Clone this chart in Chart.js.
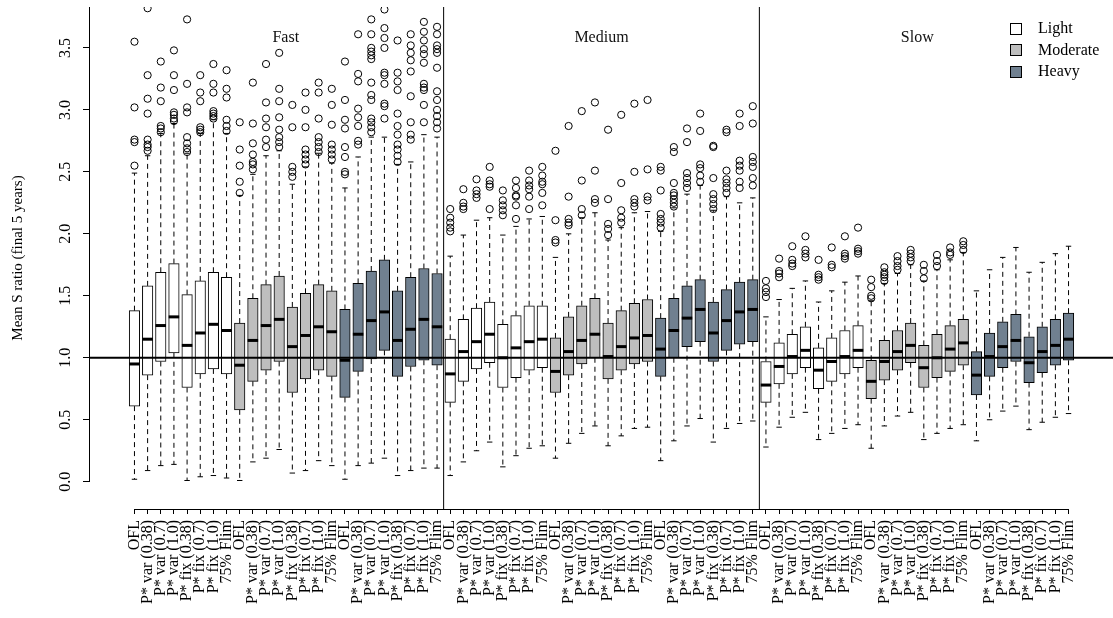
<!DOCTYPE html>
<html>
<head>
<meta charset="utf-8">
<title>Mean S ratio boxplots</title>
<script src="https://cdn.jsdelivr.net/npm/chart.js@4.4.1/dist/chart.umd.min.js"></script>
<style>
  html, body { margin: 0; padding: 0; background: #fff; }
</style>
</head>
<body>
<canvas id="boxChart" width="1113" height="618"></canvas>
<script>
/* ===============================
   DATA
================================ */

const speeds = ["Fast", "Medium", "Slow"];
const intensities = ["Light", "Moderate", "Heavy"];
const methods = ["OFL", "P* var (0.38)", "P* var (0.7)", "P* var (1.0)",
                 "P* fix (0.38)", "P* fix (0.7)", "P* fix (1.0)", "75% Flim"];
const fills = ["#FFFFFF", "#BEBEBE", "#708090"];
const yTicks = [0, 0.5, 1, 1.5, 2, 2.5, 3, 3.5];

// 72 boxes: speed -> intensity -> method
const whiskerLow = [
  0.02, 0.09, 0.13, 0.14, 0.01, 0.04, 0.05, 0.03,
  0.01, 0.16, 0.19, 0.26, 0.07, 0.09, 0.17, 0.13,
  0.02, 0.13, 0.15, 0.19, 0.05, 0.09, 0.11, 0.11,
  0.05, 0.16, 0.25, 0.32, 0.12, 0.21, 0.27, 0.29,
  0.19, 0.31, 0.39, 0.45, 0.29, 0.37, 0.43, 0.44,
  0.17, 0.33, 0.45, 0.51, 0.32, 0.43, 0.47, 0.49,
  0.28, 0.44, 0.52, 0.56, 0.34, 0.39, 0.43, 0.46,
  0.27, 0.45, 0.53, 0.56, 0.34, 0.39, 0.43, 0.46,
  0.33, 0.50, 0.57, 0.61, 0.42, 0.48, 0.52, 0.55
];
const lowerQuartile = [
  0.61, 0.86, 0.97, 1.04, 0.76, 0.87, 0.91, 0.87,
  0.58, 0.81, 0.90, 0.97, 0.72, 0.83, 0.90, 0.85,
  0.68, 0.89, 0.99, 1.06, 0.85, 0.93, 0.98, 0.94,
  0.64, 0.81, 0.91, 0.96, 0.76, 0.84, 0.90, 0.92,
  0.72, 0.86, 0.95, 1.00, 0.83, 0.90, 0.95, 0.97,
  0.85, 1.00, 1.09, 1.13, 0.97, 1.06, 1.11, 1.13,
  0.64, 0.79, 0.87, 0.92, 0.75, 0.81, 0.87, 0.92,
  0.67, 0.82, 0.90, 0.96, 0.76, 0.84, 0.89, 0.94,
  0.70, 0.85, 0.92, 0.97, 0.80, 0.88, 0.94, 0.98
];
const median = [
  0.95, 1.15, 1.26, 1.33, 1.10, 1.20, 1.27, 1.22,
  0.94, 1.14, 1.26, 1.31, 1.09, 1.18, 1.25, 1.21,
  0.98, 1.19, 1.30, 1.37, 1.14, 1.23, 1.31, 1.25,
  0.87, 1.05, 1.13, 1.19, 1.00, 1.08, 1.13, 1.15,
  0.89, 1.05, 1.14, 1.19, 1.01, 1.09, 1.16, 1.18,
  1.07, 1.22, 1.32, 1.39, 1.20, 1.30, 1.37, 1.39,
  0.78, 0.93, 1.01, 1.06, 0.90, 0.97, 1.01, 1.06,
  0.81, 0.97, 1.05, 1.10, 0.92, 1.00, 1.07, 1.12,
  0.86, 1.01, 1.09, 1.14, 0.96, 1.05, 1.10, 1.15
];
const upperQuartile = [
  1.38, 1.58, 1.69, 1.76, 1.51, 1.62, 1.69, 1.65,
  1.28, 1.48, 1.59, 1.66, 1.41, 1.52, 1.59, 1.54,
  1.39, 1.60, 1.70, 1.79, 1.54, 1.65, 1.72, 1.68,
  1.15, 1.31, 1.40, 1.45, 1.27, 1.34, 1.42, 1.42,
  1.16, 1.33, 1.42, 1.48, 1.28, 1.38, 1.44, 1.47,
  1.32, 1.48, 1.58, 1.63, 1.45, 1.55, 1.61, 1.63,
  0.97, 1.12, 1.19, 1.25, 1.08, 1.16, 1.22, 1.26,
  0.98, 1.14, 1.22, 1.28, 1.10, 1.19, 1.26, 1.31,
  1.05, 1.20, 1.29, 1.35, 1.17, 1.25, 1.31, 1.36
];
const whiskerHigh = [
  2.49, 2.63, 2.81, 2.89, 2.65, 2.81, 2.92, 2.81,
  2.31, 2.48, 2.63, 2.67, 2.40, 2.54, 2.65, 2.57,
  2.37, 2.62, 2.78, 2.78, 2.56, 2.58, 2.80, 2.78,
  1.82, 1.99, 2.11, 2.13, 1.99, 2.06, 2.12, 2.14,
  1.81, 2.00, 2.13, 2.17, 1.95, 2.05, 2.17, 2.18,
  2.02, 2.21, 2.32, 2.39, 2.19, 2.30, 2.25, 2.29,
  1.33, 1.47, 1.56, 1.62, 1.45, 1.54, 1.61, 1.66,
  1.46, 1.60, 1.68, 1.75, 1.62, 1.71, 1.79, 1.85,
  1.54, 1.71, 1.81, 1.89, 1.69, 1.77, 1.84, 1.90
];
const outliers = [
  [2.55, 2.74, 2.76, 3.02, 3.55],
  [2.67, 2.70, 2.72, 2.76, 2.97, 3.09, 3.28, 3.82],
  [2.82, 2.85, 2.87, 3.07, 3.18, 3.39],
  [2.91, 2.93, 2.96, 2.98, 3.16, 3.28, 3.48],
  [2.66, 2.69, 2.73, 2.78, 2.98, 3.02, 3.21, 3.73],
  [2.82, 2.84, 2.86, 3.07, 3.14, 3.28],
  [2.93, 2.95, 2.97, 2.99, 3.14, 3.21, 3.37],
  [2.83, 2.87, 2.92, 3.10, 3.17, 3.32],
  [2.33, 2.42, 2.55, 2.68, 2.90],
  [2.52, 2.56, 2.58, 2.64, 2.73, 2.89, 3.22],
  [2.70, 2.76, 2.86, 2.93, 3.06, 3.37],
  [2.70, 2.74, 2.78, 2.84, 2.94, 3.07, 3.17, 3.46],
  [2.46, 2.50, 2.54, 2.86, 3.04],
  [2.56, 2.60, 2.64, 2.68, 2.86, 3.00, 3.14],
  [2.66, 2.70, 2.74, 2.78, 2.93, 3.14, 3.22],
  [2.60, 2.64, 2.68, 2.72, 2.88, 3.04, 3.17],
  [2.48, 2.50, 2.62, 2.70, 2.85, 2.92, 3.08, 3.39],
  [2.72, 2.75, 2.87, 2.94, 3.01, 3.23, 3.29, 3.61],
  [2.82, 2.86, 2.90, 2.93, 3.08, 3.12, 3.22, 3.41, 3.44, 3.47, 3.50, 3.61, 3.73],
  [2.93, 3.03, 3.05, 3.21, 3.28, 3.30, 3.50, 3.58, 3.66, 3.81],
  [2.58, 2.63, 2.68, 2.72, 2.80, 2.87, 2.97, 3.16, 3.23, 3.30, 3.56],
  [2.76, 2.80, 2.90, 3.11, 3.31, 3.40, 3.46, 3.52, 3.61],
  [2.90, 3.04, 3.16, 3.18, 3.21, 3.38, 3.45, 3.49, 3.56, 3.63, 3.71],
  [2.85, 2.90, 2.95, 3.00, 3.08, 3.15, 3.34, 3.46, 3.49, 3.52, 3.61, 3.67],
  [2.02, 2.05, 2.09, 2.13, 2.20],
  [2.20, 2.22, 2.25, 2.36],
  [2.29, 2.32, 2.35, 2.44],
  [2.20, 2.38, 2.40, 2.43, 2.54],
  [2.15, 2.19, 2.23, 2.27, 2.35],
  [2.12, 2.23, 2.30, 2.31, 2.37, 2.43],
  [2.20, 2.30, 2.36, 2.39, 2.43, 2.51],
  [2.23, 2.33, 2.40, 2.42, 2.47, 2.54],
  [1.93, 1.95, 2.11, 2.67],
  [2.07, 2.09, 2.12, 2.30, 2.87],
  [2.15, 2.20, 2.43, 2.99],
  [2.25, 2.28, 2.51, 3.06],
  [1.99, 2.04, 2.08, 2.28, 2.84],
  [2.09, 2.13, 2.19, 2.41, 2.96],
  [2.22, 2.25, 2.28, 2.50, 3.05],
  [2.27, 2.30, 2.52, 3.08],
  [2.05, 2.09, 2.12, 2.16, 2.35, 2.51, 2.54],
  [2.22, 2.25, 2.28, 2.31, 2.33, 2.41, 2.66, 2.70],
  [2.37, 2.41, 2.45, 2.49, 2.74, 2.85],
  [2.42, 2.47, 2.53, 2.56, 2.83, 2.97],
  [2.20, 2.24, 2.28, 2.32, 2.45, 2.70, 2.71],
  [2.33, 2.37, 2.41, 2.44, 2.51, 2.82, 2.84],
  [2.37, 2.42, 2.51, 2.55, 2.59, 2.87, 2.97],
  [2.39, 2.45, 2.54, 2.58, 2.62, 2.89, 3.03],
  [1.49, 1.53, 1.56, 1.62],
  [1.65, 1.68, 1.70, 1.80],
  [1.74, 1.76, 1.79, 1.90],
  [1.81, 1.84, 1.87, 1.98],
  [1.63, 1.65, 1.67, 1.79],
  [1.73, 1.75, 1.89],
  [1.80, 1.82, 1.84, 1.98],
  [1.84, 1.86, 1.88, 2.05],
  [1.48, 1.50, 1.57, 1.63],
  [1.62, 1.65, 1.67, 1.69, 1.73],
  [1.71, 1.74, 1.78, 1.82],
  [1.78, 1.81, 1.84, 1.87],
  [1.64, 1.70, 1.75],
  [1.74, 1.78, 1.83],
  [1.83, 1.85, 1.89],
  [1.87, 1.91, 1.94],
  [], [], [], [], [], [], [], []
];

/* ===============================
   BUILD DATASETS
================================ */

const SERIF = "'Liberation Serif', 'DejaVu Serif', serif";
const Y_MIN = -0.22;
const Y_MAX = 3.83;
const X_MIN = -2.38;
const X_MAX = 75.38;
const nBoxes = median.length;
const positions = median.map((_, i) => i + 1);
const dividers = [24.5, 48.5];

// boxes, one dataset per intensity so each gets its own fill
const boxSets = intensities.map((name, k) => {
  const data = [];
  for (let i = 0; i < nBoxes; i++) {
    if (Math.floor((i % 24) / 8) === k) {
      data.push({ x: positions[i], y: [lowerQuartile[i], upperQuartile[i]] });
    }
  }
  return {
    type: "bar",
    label: name,
    data: data,
    backgroundColor: fills[k],
    borderColor: "#000",
    borderWidth: 1,
    borderSkipped: false,
    barThickness: 10.5,
    grouped: false,
    order: 4,
  };
});

// dashed whiskers (gaps between boxes)
const whiskerData = [];
const capData = [];
const medianData = [];
const outlierData = [];
for (let i = 0; i < nBoxes; i++) {
  const x = positions[i];
  whiskerData.push({ x, y: upperQuartile[i] }, { x, y: whiskerHigh[i] }, { x, y: null });
  whiskerData.push({ x, y: lowerQuartile[i] }, { x, y: whiskerLow[i] }, { x, y: null });
  capData.push({ x, y: whiskerHigh[i] }, { x, y: whiskerLow[i] });
  medianData.push({ x, y: median[i] });
  outliers[i].forEach((v) => outlierData.push({ x, y: v }));
}

const dividerData = [];
dividers.forEach((d) => {
  dividerData.push({ x: d, y: Y_MIN }, { x: d, y: Y_MAX }, { x: d, y: null });
});

/* ===============================
   CUSTOM TEXT / AXES (R style)
================================ */

const rStyle = {
  id: "rStyle",
  afterDraw(chart) {
    const ctx = chart.ctx;
    const xs = chart.scales.x;
    const ys = chart.scales.y;
    const area = chart.chartArea;
    ctx.save();
    ctx.strokeStyle = "#000";
    ctx.lineWidth = 1;

    // y axis line (0.0 up to top)
    const ax = Math.round(area.left) - 0.5;
    ctx.beginPath();
    ctx.moveTo(ax, ys.getPixelForValue(0));
    ctx.lineTo(ax, area.top);
    ctx.stroke();

    // x axis line (first to last box)
    const by = Math.round(area.bottom) + 0.5;
    ctx.beginPath();
    ctx.moveTo(xs.getPixelForValue(positions[0]), by);
    ctx.lineTo(xs.getPixelForValue(positions[nBoxes - 1]), by);
    ctx.stroke();

    // y tick labels, vertical like R
    ctx.fillStyle = "#000";
    ctx.font = "16px " + SERIF;
    ctx.textAlign = "center";
    ctx.textBaseline = "middle";
    yTicks.forEach((v) => {
      ctx.save();
      ctx.translate(66, ys.getPixelForValue(v));
      ctx.rotate(-Math.PI / 2);
      ctx.fillText(v.toFixed(1), 0, 0);
      ctx.restore();
    });

    // speed group titles
    ctx.fillStyle = "#111";
    speeds.forEach((s, g) => {
      const mid = (positions[g * 24] + positions[g * 24 + 23]) / 2;
      ctx.fillText(s, xs.getPixelForValue(mid), ys.getPixelForValue(3.58));
    });

    // legend
    ctx.textAlign = "left";
    intensities.forEach((name, k) => {
      const cy = 29 + k * 21.3;
      ctx.fillStyle = fills[k];
      ctx.fillRect(1010.5, Math.round(cy - 6) + 0.5, 11, 11);
      ctx.strokeRect(1010.5, Math.round(cy - 6) + 0.5, 11, 11);
      ctx.fillStyle = "#000";
      ctx.fillText(name, 1038, cy);
    });
    ctx.restore();
  },
};

/* ===============================
   CHART
================================ */

const canvas = document.getElementById("boxChart");

new Chart(canvas, {
  type: "bar",
  data: {
    datasets: [
      {
        type: "line",
        label: "ref",
        data: [{ x: X_MIN, y: 1 }, { x: X_MAX, y: 1 }],
        borderColor: "#000",
        borderWidth: 2,
        pointRadius: 0,
        order: 0,
      },
      {
        type: "line",
        label: "dividers",
        data: dividerData,
        borderColor: "#000",
        borderWidth: 1,
        pointRadius: 0,
        spanGaps: false,
        order: 0,
      },
      {
        type: "line",
        label: "median",
        data: medianData,
        showLine: false,
        pointStyle: "line",
        pointRadius: 5.25,
        pointBorderWidth: 3,
        pointBorderColor: "#000",
        order: 1,
      },
      {
        type: "line",
        label: "outliers",
        data: outlierData,
        showLine: false,
        pointStyle: "circle",
        pointRadius: 3.6,
        pointBorderWidth: 1,
        pointBorderColor: "#000",
        pointBackgroundColor: "rgba(0,0,0,0)",
        order: 2,
      },
      {
        type: "line",
        label: "caps",
        data: capData,
        showLine: false,
        pointStyle: "line",
        pointRadius: 2.7,
        pointBorderWidth: 1,
        pointBorderColor: "#000",
        order: 3,
      },
      ...boxSets,
      {
        type: "line",
        label: "whiskers",
        data: whiskerData,
        borderColor: "#000",
        borderWidth: 1,
        borderDash: [5, 4],
        pointRadius: 0,
        spanGaps: false,
        order: 5,
      },
    ],
  },
  options: {
    responsive: false,
    animation: false,
    events: [],
    layout: {
      autoPadding: false,
      padding: { top: 7, right: 0, bottom: 0, left: 0 },
    },
    plugins: {
      legend: { display: false },
      tooltip: { enabled: false },
    },
    scales: {
      x: {
        type: "linear",
        min: X_MIN,
        max: X_MAX,
        offset: false,
        border: { display: false },
        grid: {
          offset: false,
          drawOnChartArea: false,
          drawTicks: true,
          tickLength: 5,
          color: "#000",
        },
        ticks: {
          autoSkip: false,
          minRotation: 90,
          maxRotation: 90,
          padding: 6,
          color: "#000",
          font: { family: SERIF, size: 16 },
          callback: (v) => methods[(Math.round(v) - 1) % methods.length],
        },
        afterBuildTicks: (scale) => {
          scale.ticks = positions.map((v) => ({ value: v }));
        },
        afterFit: (scale) => {
          scale.height = 109;
          scale.paddingLeft = 0;
          scale.paddingRight = 0;
        },
      },
      y: {
        type: "linear",
        min: Y_MIN,
        max: Y_MAX,
        border: { display: false },
        grid: {
          drawOnChartArea: false,
          drawTicks: true,
          tickLength: 7,
          color: "#000",
        },
        ticks: { display: false },
        title: {
          display: true,
          text: "Mean S ratio (final 5 years)",
          color: "#000",
          font: { family: SERIF, size: 15 },
          padding: { top: 9, bottom: 0 },
        },
        afterBuildTicks: (scale) => {
          scale.ticks = yTicks.map((v) => ({ value: v }));
        },
        afterFit: (scale) => {
          scale.width = 90;
          scale.paddingTop = 0;
          scale.paddingBottom = 0;
        },
      },
    },
  },
  plugins: [rStyle],
});
</script>
</body>
</html>
